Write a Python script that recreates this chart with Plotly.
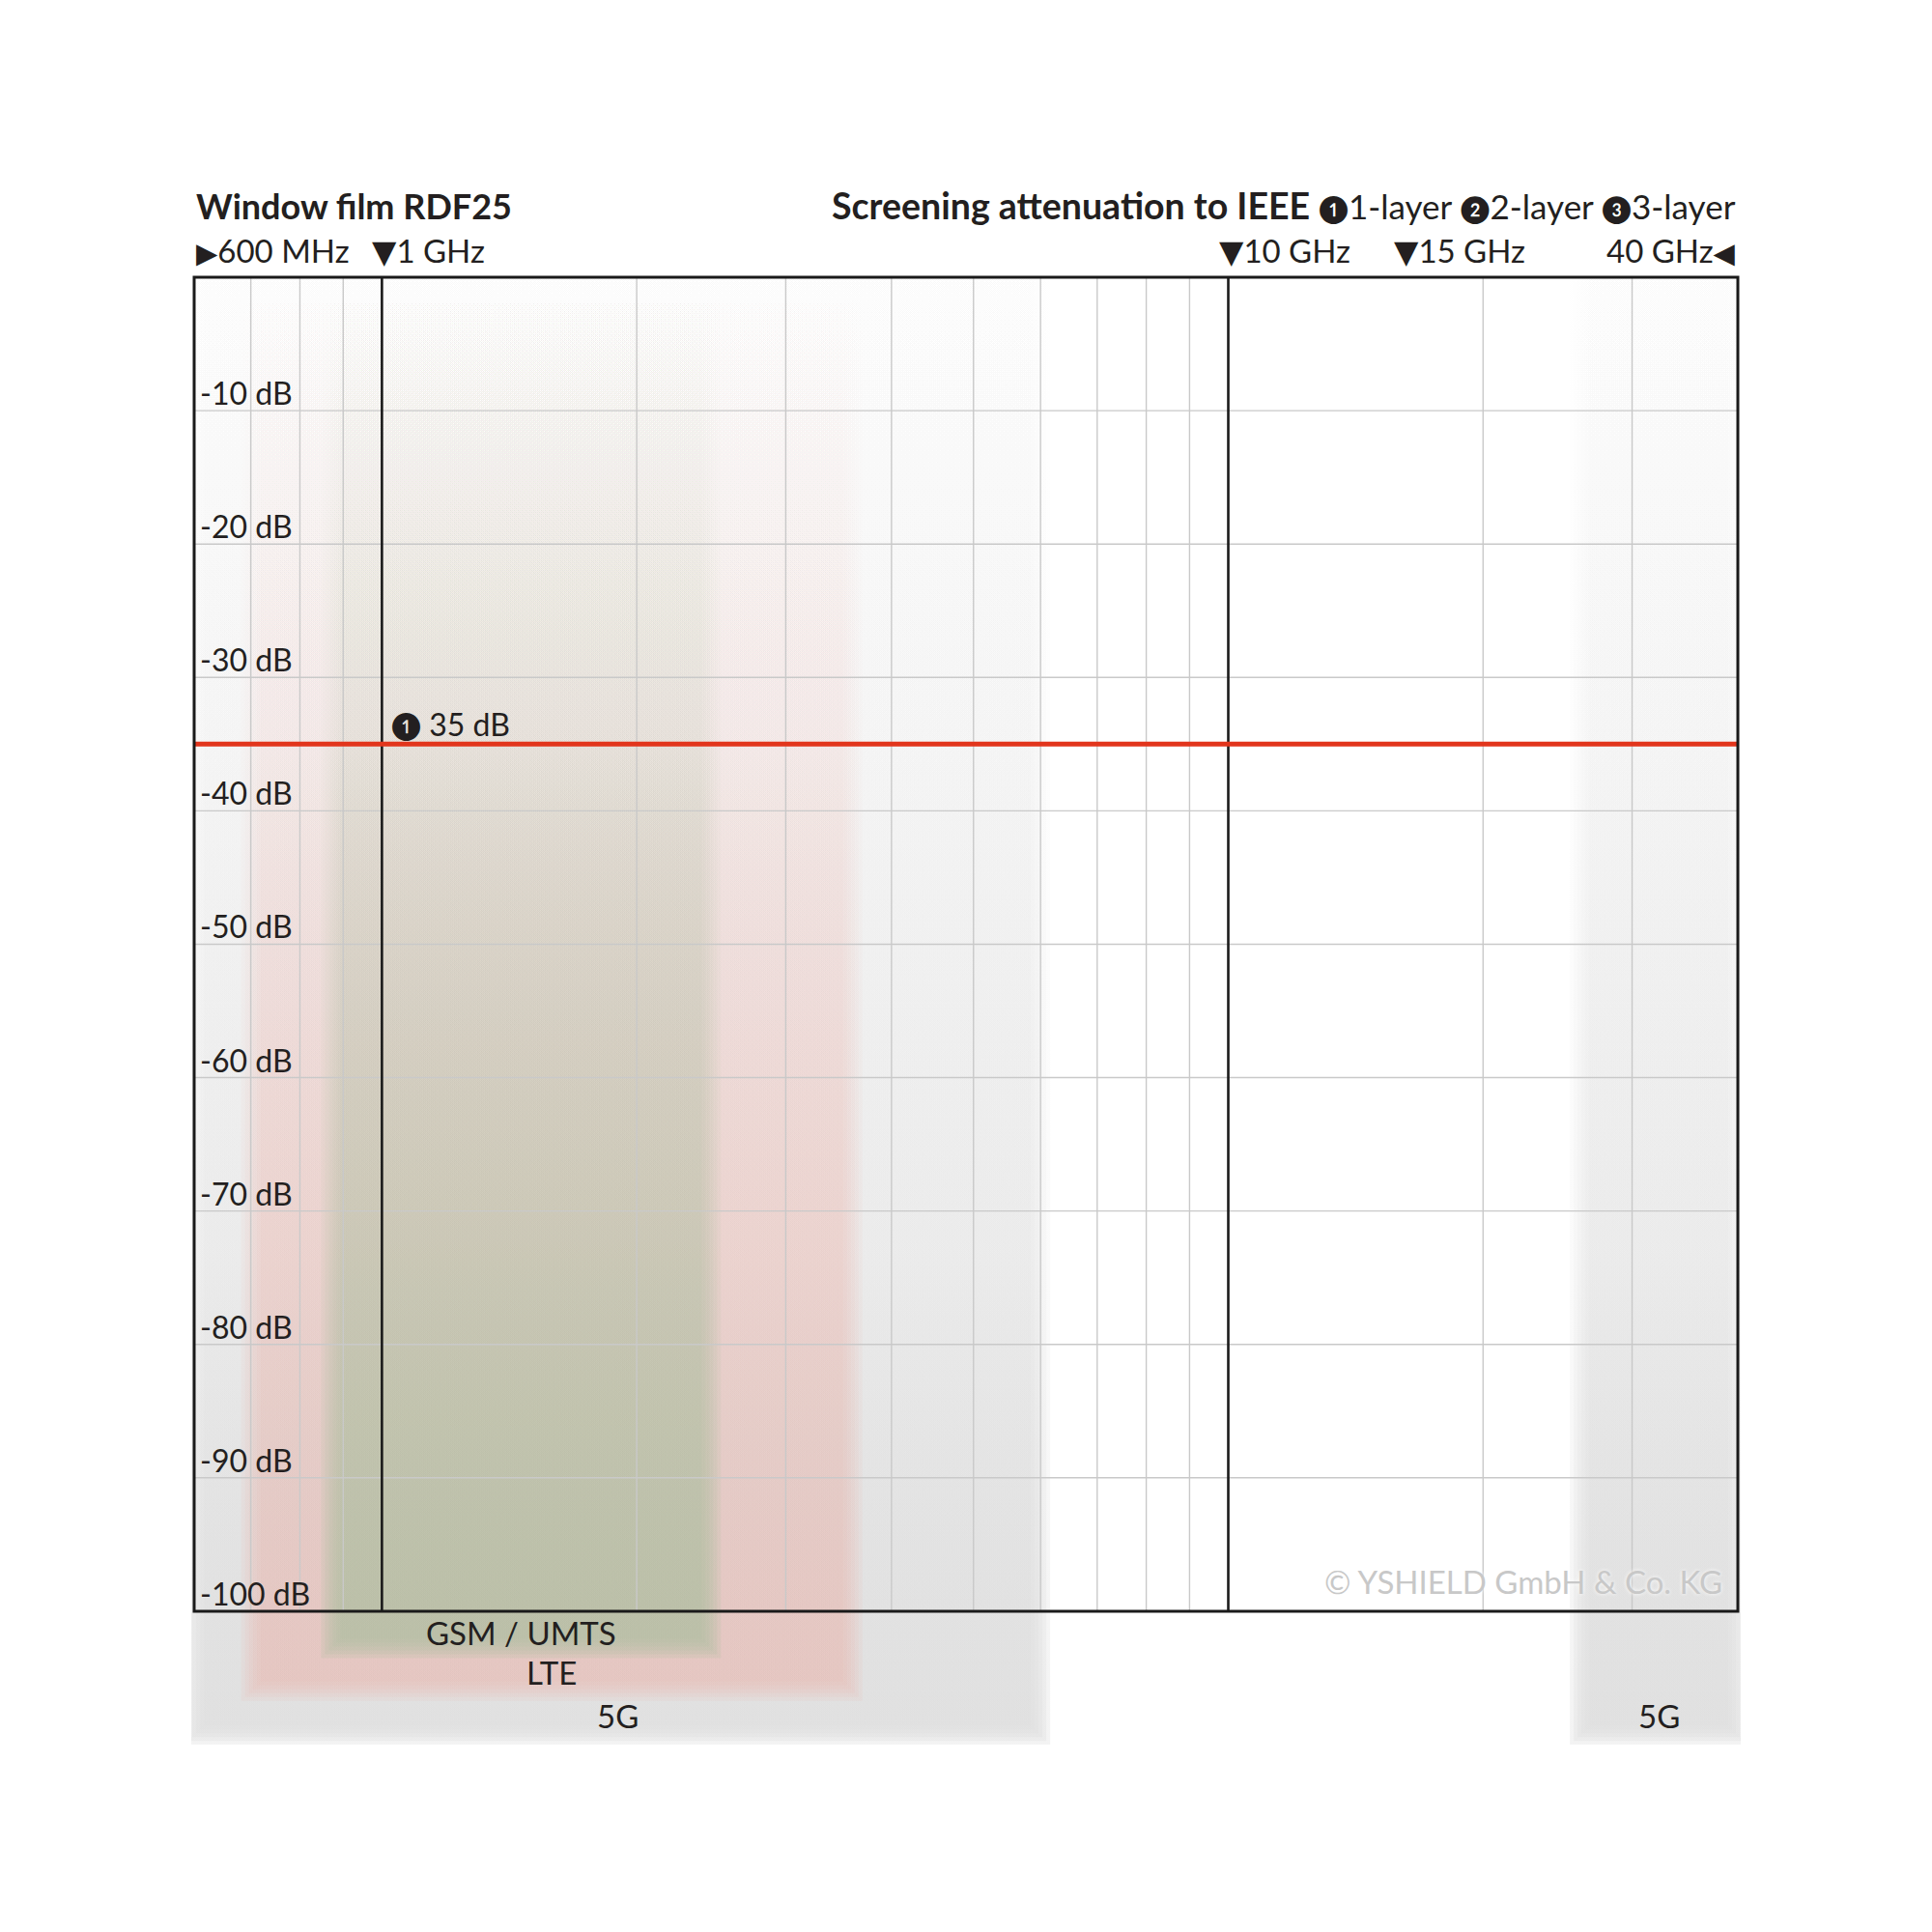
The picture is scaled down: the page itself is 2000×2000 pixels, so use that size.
import numpy as np
import plotly.graph_objects as go

# frequency axis (GHz), log scale
F_MIN, F_MAX = 0.6, 40
GRID_GHZ = [0.7, 0.8, 0.9, 2, 3, 4, 5, 6, 7, 8, 9, 20, 30]
MAJOR_GHZ = [1, 10]

# attenuation axis (dB)
DB_LEVELS = [-10, -20, -30, -40, -50, -60, -70, -80, -90, -100]
DB_LABELS = ["-10 dB", "-20 dB", "-30 dB", "-40 dB", "-50 dB",
             "-60 dB", "-70 dB", "-80 dB", "-90 dB", "-100 dB"]

# mobile radio bands (GHz)
BAND_NAMES = ["5G", "5G", "LTE", "GSM / UMTS"]
BAND_LO = [0.6, 26, 0.7, 0.87]
BAND_HI = [6, 40, 3.6, 2.45]

# screening attenuation of the film, 1 layer
LAYER1_DB = -35
LAYER1_LABEL = "35 dB"

# header frequency marks
MARK_TEXT = ["600 MHz", "1 GHz", "10 GHz", "15 GHz", "40 GHz"]
MARK_GHZ = [0.6, 1, 10, 15, 40]

FONT = "Lato, 'Open Sans', 'DejaVu Sans', sans-serif"
TXT = "#231f20"

# plot geometry (pixels); the page puts the figure 8px in from the corner
W, H = 2000, 2000
OFF = 8
L, R, T, B = 198 - OFF, 198 + OFF, 284 - OFF, 194 + OFF
PAD = 3
px_dec = (W - L - R - 2 * PAD) / (np.log10(F_MAX) - np.log10(F_MIN))
y_bottom = -110
px_db = 13.81
y_top = PAD / px_db

# band styles: bottom of the band (below the frame), label y, rgb, alpha bottom->top
STYLE = {
    "5G": dict(bottom=-109.3, label=-107.8, rgb=(222, 222, 222), alpha=[0.93, 0.6, 0.33, 0.08]),
    "LTE": dict(bottom=-106.0, label=-104.6, rgb=(232, 182, 174), alpha=[0.62, 0.45, 0.2, 0.0]),
    "GSM / UMTS": dict(bottom=-102.8, label=-101.6, rgb=(176, 190, 162), alpha=[0.8, 0.5, 0.2, 0.0]),
}

fig = go.Figure()


def add_band(lo, hi, st, layers=6, feather=20):
    # stack of slightly shrinking rectangles -> soft edges
    r, g, b = st["rgb"]
    stops = np.linspace(0, 1, len(st["alpha"]))
    for k in range(layers):
        d = feather * (k / (layers - 1) - 0.5)
        x0 = lo * 10 ** (d / px_dec)
        x1 = hi * 10 ** (-d / px_dec)
        y0 = st["bottom"] + d / px_db
        scale = []
        for s, a in zip(stops, st["alpha"]):
            ak = 1 - (1 - a) ** (1 / layers)
            scale.append([s, f"rgba({r},{g},{b},{ak:.4f})"])
        fig.add_trace(go.Scatter(
            x=[x0, x1, x1, x0, x0], y=[y0, y0, 0, 0, y0],
            mode="lines", line=dict(width=0), fill="toself",
            fillgradient=dict(type="vertical", colorscale=scale),
            hoverinfo="skip", showlegend=False))


for name, lo, hi in zip(BAND_NAMES, BAND_LO, BAND_HI):
    add_band(lo, hi, STYLE[name])

# light grid
gx, gy = [], []
for f in GRID_GHZ:
    gx += [f, f, None]
    gy += [0, -100, None]
for v in DB_LEVELS[:-1]:
    gx += [F_MIN, F_MAX, None]
    gy += [v, v, None]
fig.add_trace(go.Scatter(x=gx, y=gy, mode="lines", line=dict(color="#c9c9c9", width=1.4),
                         hoverinfo="skip", showlegend=False))

# decade lines
mx, my = [], []
for f in MAJOR_GHZ:
    mx += [f, f, None]
    my += [0, -100, None]
fig.add_trace(go.Scatter(x=mx, y=my, mode="lines", line=dict(color="#1a1a1a", width=2.6),
                         hoverinfo="skip", showlegend=False))

# attenuation line
fig.add_trace(go.Scatter(x=[F_MIN, F_MAX], y=[LAYER1_DB, LAYER1_DB], mode="lines",
                         line=dict(color="#e2351c", width=5), hoverinfo="skip", showlegend=False))

# frame
fig.add_shape(type="rect", xref="x", yref="y", x0=F_MIN, x1=F_MAX, y0=-100, y1=0,
              line=dict(color="#1a1a1a", width=3), layer="above")

# dB labels inside the frame
for v, lab in zip(DB_LEVELS, DB_LABELS):
    fig.add_annotation(x=np.log10(F_MIN), y=v, text=lab, showarrow=False, xanchor="left",
                       yanchor="bottom", xshift=4, yshift=-3,
                       font=dict(family=FONT, size=32, color=TXT))

circ = '<span style="font-size:28px">{}</span>'
fig.add_annotation(x=np.log10(MAJOR_GHZ[0]), y=LAYER1_DB, text=circ.format("❶") + " " + LAYER1_LABEL,
                   showarrow=False, xanchor="left", yanchor="bottom", xshift=8, yshift=-1,
                   font=dict(family=FONT, size=32, color=TXT))

# band labels
for name, lo, hi in zip(BAND_NAMES, BAND_LO, BAND_HI):
    fig.add_annotation(x=(np.log10(lo) + np.log10(hi)) / 2, y=STYLE[name]["label"], text=name,
                       showarrow=False, xanchor="center", yanchor="middle",
                       font=dict(family=FONT, size=33, color=TXT))

# header
fig.add_annotation(xref="paper", yref="paper", x=PAD / (W - L - R), y=1.0467, text="<b>Window film RDF25</b>",
                   showarrow=False, xanchor="left", yanchor="middle",
                   font=dict(family=FONT, size=36, color=TXT))
right_title = ('<span style="font-size:37.5px"><b>Screening attenuation to IEEE</b></span> '
               + circ.format("❶") + "1-layer " + circ.format("❷") + "2-layer "
               + circ.format("❸") + "3-layer")
fig.add_annotation(xref="paper", yref="paper", x=1 - PAD / (W - L - R), y=1.0467, text=right_title,
                   showarrow=False, xanchor="right", yanchor="middle",
                   font=dict(family=FONT, size=35, color=TXT))

tri = '<span style="font-size:29px">{}</span>'
texts = [tri.format("▶") + MARK_TEXT[0], "▼" + MARK_TEXT[1], "▼" + MARK_TEXT[2],
         "▼" + MARK_TEXT[3], MARK_TEXT[4] + tri.format("◀")]
shifts = [0, -12, -12, 15, 0]
anchors = ["left", "left", "left", "left", "right"]
for t, f, s, a in zip(texts, MARK_GHZ, shifts, anchors):
    fig.add_annotation(x=np.log10(f), yref="paper", y=1.0164, text=t, showarrow=False,
                       xanchor=a, yanchor="middle", xshift=s,
                       font=dict(family=FONT, size=33, color=TXT))

# copyright
fig.add_annotation(x=np.log10(F_MAX), y=-100, text="© YSHIELD GmbH & Co. KG", showarrow=False,
                   xanchor="right", yanchor="bottom", xshift=-14, yshift=9,
                   font=dict(family=FONT, size=33, color="#c8c8c8", shadow="0 0 4px #ffffff"))

fig.update_xaxes(type="log", range=[np.log10(F_MIN) - PAD / px_dec, np.log10(F_MAX) + PAD / px_dec],
                 visible=False, showgrid=False, zeroline=False)
fig.update_yaxes(range=[y_bottom, y_top], visible=False, showgrid=False, zeroline=False)
fig.update_layout(width=W, height=H, margin=dict(l=L, r=R, t=T, b=B),
                  paper_bgcolor="white", plot_bgcolor="white", showlegend=False)

fig.write_html("out.html")
